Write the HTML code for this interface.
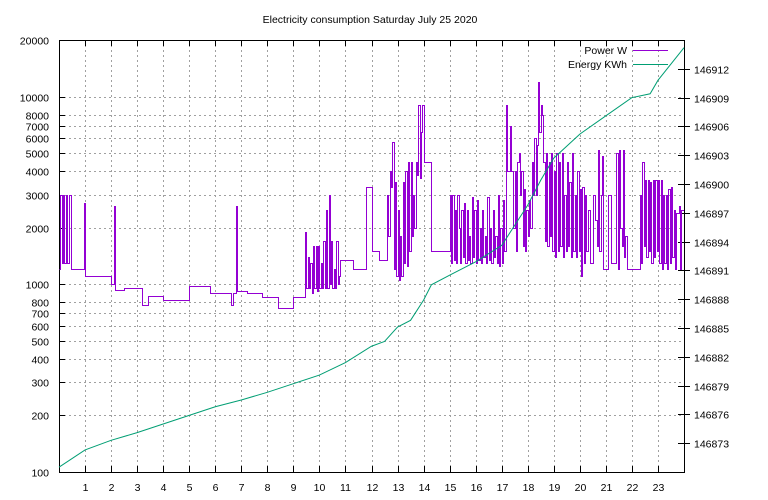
<!DOCTYPE html>
<html><head><meta charset="utf-8"><style>
body{margin:0;background:#fff;}
svg{display:block;font-family:"Liberation Sans",sans-serif;font-size:10.5px;}
</style></head><body>
<svg id="chart" width="768" height="500" xmlns="http://www.w3.org/2000/svg"></svg>
<script>
const leftTicks=[100,200,300,400,500,600,700,800,1000,2000,3000,4000,5000,6000,7000,8000,10000,20000];
const rightTicks=[146873,146876,146879,146882,146885,146888,146891,146894,146897,146900,146903,146906,146909,146912];
const hourTicks=[1,2,3,4,5,6,7,8,9,10,11,12,13,14,15,16,17,18,19,20,21,22,23];
const powerTimes=[0,0.05,0.1,0.15,0.2,0.25,0.3,0.4,0.45,0.5,0.95,1.0,1.5,2.0,2.1,2.15,2.5,3.2,3.4,4.0,5.0,5.8,6.6,6.7,6.8,6.85,7.2,7.8,8.4,9.0,9.45,9.5,9.55,9.6,9.65,9.7,9.75,9.8,9.85,9.9,9.95,10.0,10.05,10.1,10.15,10.2,10.25,10.3,10.35,10.4,10.45,10.5,10.55,10.6,10.65,10.7,10.75,10.8,11.3,11.8,12.0,12.3,12.6,12.65,12.7,12.75,12.8,12.85,12.9,12.95,13.0,13.05,13.1,13.15,13.2,13.25,13.3,13.35,13.4,13.45,13.5,13.55,13.6,13.65,13.7,13.75,13.8,13.85,13.9,13.95,14.0,14.3,15.0,15.05,15.1,15.15,15.2,15.25,15.3,15.35,15.4,15.45,15.5,15.55,15.6,15.65,15.7,15.75,15.8,15.85,15.9,15.95,16.0,16.05,16.1,16.15,16.2,16.25,16.3,16.35,16.4,16.45,16.5,16.55,16.6,16.65,16.7,16.75,16.8,16.85,16.9,16.95,17.0,17.05,17.1,17.15,17.2,17.3,17.35,17.45,17.5,17.55,17.6,17.65,17.7,17.75,17.8,17.85,17.9,17.95,18.0,18.05,18.1,18.15,18.2,18.25,18.3,18.35,18.4,18.45,18.5,18.55,18.6,18.65,18.7,18.75,18.8,18.85,18.9,18.95,19.0,19.05,19.1,19.15,19.2,19.25,19.3,19.35,19.4,19.45,19.5,19.55,19.6,19.65,19.7,19.75,19.8,19.85,19.9,19.95,20.0,20.05,20.1,20.15,20.2,20.25,20.3,20.4,20.5,20.6,20.65,20.7,20.75,20.8,20.85,20.9,21.0,21.1,21.2,21.4,21.45,21.5,21.55,21.6,21.65,21.7,21.75,21.8,22.0,22.3,22.35,22.4,22.45,22.5,22.55,22.6,22.65,22.7,22.75,22.8,22.85,22.9,22.95,23.0,23.05,23.1,23.15,23.2,23.25,23.3,23.35,23.4,23.45,23.5,23.55,23.6,23.65,23.7,23.8,23.85,23.9];
const powerValues=[1200,3000,1300,3000,1300,3000,1300,3000,1200,1200,2700,1100,1100,1000,2600,930,950,780,870,820,980,900,780,900,2600,920,900,860,750,860,1900,950,1400,950,1300,900,1600,950,1600,920,1600,950,1300,950,1700,950,2500,950,3000,1000,1700,950,1200,950,1700,1000,1100,1350,1200,3300,1500,1350,3000,1800,4000,3300,5700,1200,3500,1100,2500,1050,1800,1100,3500,1300,4000,1250,4500,1500,4500,1800,3000,2000,4500,3800,9000,3700,6500,9000,4500,1500,3000,1300,3000,1350,2500,1300,3000,2000,1300,2500,1400,2700,1300,2500,1350,1800,1300,2900,1400,2500,1300,2800,1350,2000,1300,2500,1400,1800,1300,2900,1350,2000,1300,2500,1400,1800,1300,3000,1250,2000,1300,2800,1500,9000,4000,7000,4000,2000,4000,1500,4500,5000,3000,4000,1600,3200,1500,2500,1800,2800,2000,4500,3000,6000,3000,5500,12000,6500,9000,8000,4500,1700,5000,1600,4500,1800,5000,1500,4000,1400,5000,1500,4500,1600,5000,1400,3000,1500,4500,1600,3500,1400,5000,1500,3000,1400,4000,1500,3200,1100,3300,1300,3000,1500,2500,1300,3000,2200,1600,5200,1500,3000,4800,1200,1200,3000,1300,5000,1200,5200,2000,1600,5200,1400,1800,1200,1200,3000,1300,4500,1600,3600,1400,3600,1500,3500,1300,3600,1400,3600,1500,3600,1300,3600,1200,3000,1300,3000,1200,3200,1300,3300,1400,2500,1200,2400,2600,1200,2500];
const energyTimes=[0,1,2,3,4,5,6,7,8,9,10,11,12,12.5,13,13.5,14,14.3,15,16,17,17.5,18,18.5,19,20,21,22,22.7,23,24];
const energyValues=[146870.5,146872.3,146873.3,146874.1,146875,146875.9,146876.8,146877.5,146878.3,146879.2,146880.1,146881.4,146883.1,146883.6,146885.1,146885.8,146887.9,146889.5,146890.5,146891.9,146893.6,146895.7,146897.8,146900.4,146902.7,146905.2,146907.1,146909,146909.4,146910.8,146914.2];

const L=59,R=684,T=40,B=472;
const X=h=>L+(R-L)*h/24;
const Y=v=>B-(B-T)*Math.log10(v/100)/Math.log10(200);
const Y2=v=>B-(B-T)*(v-146870)/45;
const svg=document.getElementById('chart');
const NS='http://www.w3.org/2000/svg';
function mk(tag,attrs,parent){const e=document.createElementNS(NS,tag);for(const k in attrs)e.setAttribute(k,attrs[k]);(parent||svg).appendChild(e);return e;}
function txt(x,y,s,anchor,parent){const t=mk('text',{x:x,y:y,'text-anchor':anchor,fill:'#000'},parent);t.textContent=s;return t;}

const grid=mk('g',{stroke:'#a0a0a0','stroke-width':1,'stroke-dasharray':'2,3','shape-rendering':'crispEdges'});


const axes=mk('g',{'shape-rendering':'crispEdges'});


leftTicks.forEach(v=>{const y=Math.round(Y(v))+0.5;
 if(v!==100&&v!==20000) mk('line',{x1:L,x2:R,y1:y,y2:y},grid);
 mk('line',{x1:L,x2:L+6,y1:y,y2:y,stroke:'#000'},axes);
 const t=txt(L-10,y+4,String(v),'end',axes);
 
 
});
hourTicks.forEach(h=>{const x=Math.round(X(h))+0.5;
 mk('line',{x1:x,x2:x,y1:T,y2:B},grid);
 mk('line',{x1:x,x2:x,y1:B,y2:B-6,stroke:'#000'},axes);
 mk('line',{x1:x,x2:x,y1:T,y2:T+6,stroke:'#000'},axes);
 const t=txt(x,B+19,String(h),'middle',axes);
 
 
});
rightTicks.forEach(v=>{const y=Math.round(Y2(v))+0.5;
 mk('line',{x1:R-6,x2:R+6,y1:y,y2:y,stroke:'#000'},axes);
 const t=txt(R+10,y+4,String(v),'start',axes);
 
 
});
mk('rect',{x:L+0.5,y:T+0.5,width:R-L,height:B-T,fill:'none',stroke:'#000'},axes);

let d='';
powerTimes.forEach((t,i)=>{const x=Math.round(X(t))+0.5,y=Math.round(Y(powerValues[i]))+0.5;
 if(i===0)d+='M'+x+','+y;else d+='H'+x+'V'+y;});
d+='H'+X(24);
const p=mk('path',{d:d,fill:'none',stroke:'#9400d3','stroke-width':1,'shape-rendering':'crispEdges'});



let d2='';
energyTimes.forEach((t,i)=>{d2+=(i?'L':'M')+X(t)+','+Y2(energyValues[i]);});
const e=mk('path',{d:d2,fill:'none',stroke:'#009e73','stroke-width':1});



const lg=mk('g',{});


txt(627,54,'Power W','end',lg);
mk('line',{x1:633,x2:668,y1:50.5,y2:50.5,stroke:'#9400d3'},lg);
txt(627,68,'Energy KWh','end',lg);
mk('line',{x1:633,x2:668,y1:64.5,y2:64.5,stroke:'#009e73'},lg);

const title=txt(370,23,'Electricity consumption Saturday July 25 2020','middle');


</script>
</body></html>
